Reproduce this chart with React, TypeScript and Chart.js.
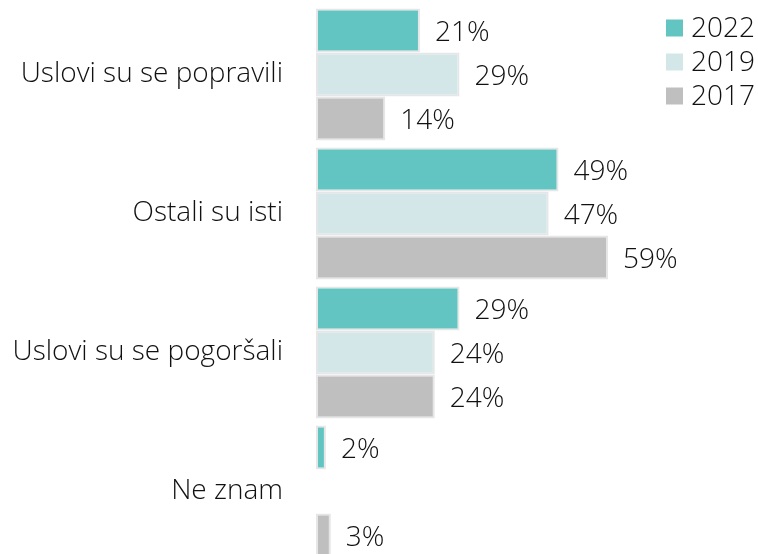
import React, { useEffect, useRef } from "react";
import { Chart, registerables } from "chart.js";

Chart.register(...registerables);

const categories = ["Uslovi su se popravili", "Ostali su isti", "Uslovi su se pogoršali", "Ne znam"];
const series2022 = [21, 49, 29, 2];
const series2019: (number | null)[] = [29, 47, 24, null];
const series2017 = [14, 59, 24, 3];
const seriesNames = ["2022", "2019", "2017"];
const seriesColors = ["#62C5C2", "#D3E7E8", "#BFBFBF"];

const FONT = "'Open Sans', Lato, sans-serif";

const labelPlugin = {
  id: "valueLabels",
  afterDatasetsDraw(chart: any) {
    const ctx = chart.ctx;
    ctx.save();
    ctx.font = `300 28px ${FONT}`;
    ctx.fillStyle = "#111111";
    ctx.textBaseline = "middle";
    ctx.textAlign = "left";
    chart.data.datasets.forEach((ds: any, i: number) => {
      const meta = chart.getDatasetMeta(i);
      meta.data.forEach((el: any, j: number) => {
        const v = ds.data[j];
        if (v === null || v === undefined) return;
        ctx.fillText(`${v}%`, el.x + 15, el.y + 3);
      });
    });
    seriesNames.forEach((name, i) => {
      const y = 28 + i * 34;
      ctx.fillStyle = seriesColors[i];
      ctx.fillRect(666, y - 8.5, 17, 17);
      ctx.fillStyle = "#111111";
      ctx.fillText(name, 691, y + 1);
    });
    ctx.restore();
  },
};

export default function App() {
  const ref = useRef<HTMLCanvasElement>(null);
  useEffect(() => {
    if (!ref.current) return;
    const chart = new Chart(ref.current, {
      type: "bar",
      data: {
        labels: categories,
        datasets: [
          { label: seriesNames[0], data: series2022, backgroundColor: seriesColors[0] },
          { label: seriesNames[1], data: series2019, backgroundColor: seriesColors[1] },
          { label: seriesNames[2], data: series2017, backgroundColor: seriesColors[2] },
        ].map((d) => ({
          ...d,
          borderColor: "#E6E6E6",
          borderWidth: 2,
          borderSkipped: false,
          categoryPercentage: 0.95,
          barPercentage: 1,
        })),
      },
      options: {
        indexAxis: "y",
        animation: false,
        responsive: false,
        maintainAspectRatio: false,
        layout: { padding: { top: 5, bottom: 1, right: 46, left: 0 } },
        plugins: { legend: { display: false }, tooltip: { enabled: false } },
        scales: {
          x: { min: 0, max: 80, display: false },
          y: {
            grid: { display: false, drawTicks: false },
            border: { display: false },
            ticks: { padding: 33, color: "#111111", font: { family: FONT, size: 28, weight: "300" } },
            afterFit: (s: any) => {
              s.width = 316;
              s.paddingTop = 0;
              s.paddingBottom = 0;
            },
          },
        },
      },
      plugins: [labelPlugin],
    } as any);
    return () => chart.destroy();
  }, []);
  return (
    <div style={{ position: "fixed", left: 0, top: 0, width: 758, height: 562, background: "#fff" }}>
      <canvas ref={ref} width={758} height={562} style={{ width: 758, height: 562, display: "block" }} />
    </div>
  );
}
